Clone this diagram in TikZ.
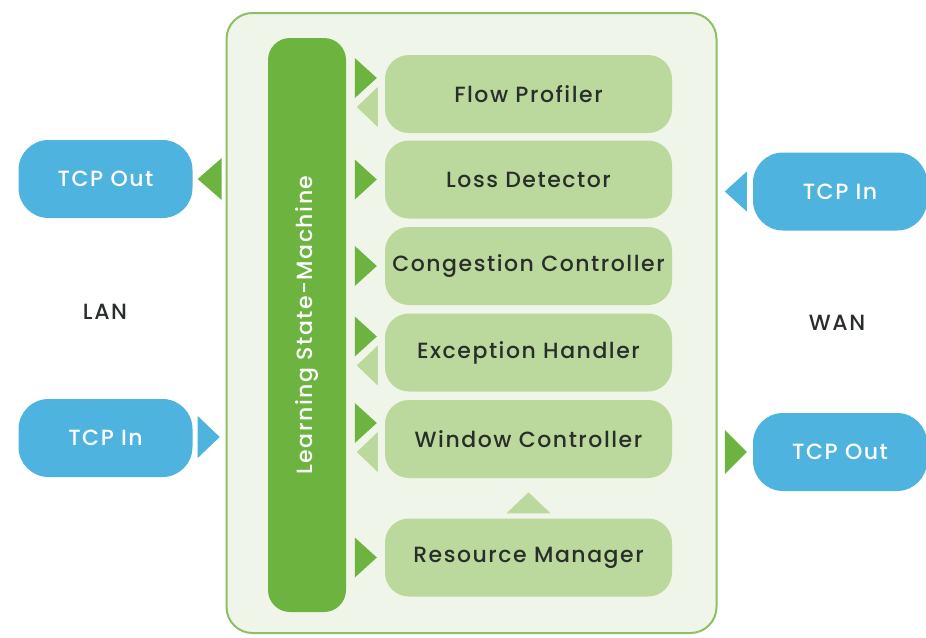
\documentclass[tikz,border=0pt]{standalone}
\usepackage{fontspec}
\setmainfont{Poppins Medium}[LetterSpace=7]
\usetikzlibrary{calc}

\definecolor{leafgreen}{HTML}{6CB33F}
\definecolor{palegreen}{HTML}{BBD99D}
\definecolor{mintwash}{HTML}{EFF5E8}
\definecolor{rimgreen}{HTML}{8CC065}
\definecolor{skyblue}{HTML}{4FB3DF}
\definecolor{inkgrey}{HTML}{2A2E2A}

\tikzset{
    module/.style = {rectangle, rounded corners=24pt, fill=palegreen, minimum width=287pt, minimum height=78pt,
                     text=inkgrey, font=\fontsize{22}{24}\selectfont},
    tcpbox/.style = {rectangle, rounded corners=30pt, fill=skyblue, minimum width=174pt, minimum height=78pt,
                     text=white, font=\fontsize{22}{24}\selectfont},
    netlabel/.style = {text=inkgrey, font=\fontsize{22}{24}\selectfont}
}

\begin{document}
\begin{tikzpicture}[x=1pt, y=-1pt]
    \useasboundingbox (0,0) rectangle (926,637);

    % engine frame and state machine
    \node (engine) [rectangle, rounded corners=26pt, fill=mintwash, draw=rimgreen, line width=2pt,
                    minimum width=490pt, minimum height=620pt] at (471.5,323) {};
    \node (lsm) [rectangle, rounded corners=22pt, fill=leafgreen, minimum width=78pt, minimum height=574pt] at (307,325) {};
    \node [rotate=90, text=white, font=\fontsize{22}{24}\selectfont] at (lsm.center) {Learning State-Machine};

    % modules
    \node (fp) [module] at (528.5,94)    {Flow Profiler};
    \node (ld) [module] at (528.5,179.5) {Loss Detector};
    \node (cc) [module] at (528.5,266)   {Congestion Controller};
    \node (eh) [module] at (528.5,352.5) {Exception Handler};
    \node (wc) [module] at (528.5,439)   {Window Controller};
    \node (rm) [module] at (528.5,557.5) {Resource Manager};

    % LAN and WAN sides
    \node (lanout) [tcpbox] at (105.5,179) {TCP Out};
    \node (lanin)  [tcpbox] at (105.5,438) {TCP In};
    \node (lan) [netlabel] at (105,312) {LAN};
    \node (wanin)  [tcpbox] at (840,191.5) {TCP In};
    \node (wanout) [tcpbox] at (840,452)   {TCP Out};
    \node (wan) [netlabel] at (837,323) {WAN};

    % state machine to modules
    \fill[leafgreen] ($(fp.west)+(-30,-36)$) -- ($(fp.west)+(-8,-16)$) -- ($(fp.west)+(-30,4)$) -- cycle;
    \fill[palegreen] ($(fp.west)+(-7,-7)$) -- ($(fp.west)+(-28,13)$) -- ($(fp.west)+(-7,33)$) -- cycle;
    \fill[leafgreen] ($(ld.west)+(-30,-20)$) -- ($(ld.west)+(-8,0)$) -- ($(ld.west)+(-30,20)$) -- cycle;
    \fill[leafgreen] ($(cc.west)+(-30,-20)$) -- ($(cc.west)+(-8,0)$) -- ($(cc.west)+(-30,20)$) -- cycle;
    \fill[leafgreen] ($(eh.west)+(-30,-36)$) -- ($(eh.west)+(-8,-16)$) -- ($(eh.west)+(-30,4)$) -- cycle;
    \fill[palegreen] ($(eh.west)+(-7,-7)$) -- ($(eh.west)+(-28,13)$) -- ($(eh.west)+(-7,33)$) -- cycle;
    \fill[leafgreen] ($(wc.west)+(-30,-36)$) -- ($(wc.west)+(-8,-16)$) -- ($(wc.west)+(-30,4)$) -- cycle;
    \fill[palegreen] ($(wc.west)+(-7,-7)$) -- ($(wc.west)+(-28,13)$) -- ($(wc.west)+(-7,33)$) -- cycle;
    \fill[leafgreen] ($(rm.west)+(-30,-20)$) -- ($(rm.west)+(-8,0)$) -- ($(rm.west)+(-30,20)$) -- cycle;
    \fill[palegreen] ($(rm.north)+(-22,-5)$) -- ($(rm.north)+(0,-26)$) -- ($(rm.north)+(22,-5)$) -- cycle;

    % ports
    \fill[leafgreen] ($(lanout.east)+(5,0)$) -- ($(lanout.east)+(29,-21)$) -- ($(lanout.east)+(29,21)$) -- cycle;
    \fill[skyblue]   ($(lanin.east)+(5,-22)$) -- ($(lanin.east)+(27,-1)$) -- ($(lanin.east)+(5,20)$) -- cycle;
    \fill[skyblue]   ($(wanin.west)+(-28,0)$) -- ($(wanin.west)+(-6,-20)$) -- ($(wanin.west)+(-6,20)$) -- cycle;
    \fill[leafgreen] ($(wanout.west)+(-28,-22)$) -- ($(wanout.west)+(-6,0)$) -- ($(wanout.west)+(-28,22)$) -- cycle;
\end{tikzpicture}
\end{document}
